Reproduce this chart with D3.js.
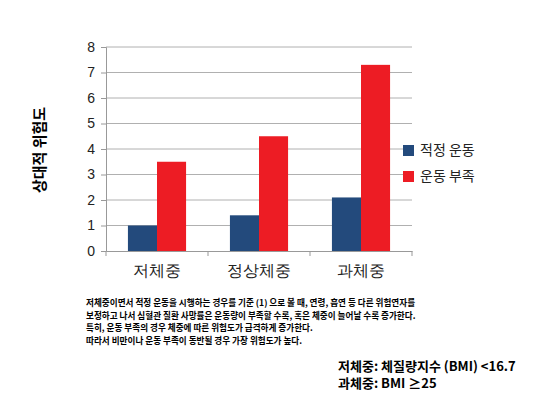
<!DOCTYPE html>
<html><head><meta charset="utf-8">
<script src="https://cdn.jsdelivr.net/npm/d3@7"></script>
<style>body{margin:0;background:#fff;font-family:"Noto Sans CJK KR","Noto Sans",sans-serif;}</style>
</head><body><div id="chart"></div>
<script>
const categories = ["저체중", "정상체중", "과체중"];
const seriesNames = ["적정 운동", "운동 부족"];
const proper = [1, 1.4, 2.1];
const lacking = [3.5, 4.5, 7.3];
const yTicks = [0, 1, 2, 3, 4, 5, 6, 7, 8];
const notes = [
  "저체중이면서 적정  운동을 시행하는 경우를 기준 (1) 으로 볼 때, 연령, 흡연 등 다른 위험연자를",
  "보정하고 나서 심혈관 질환 사망률은 운동량이 부족할 수록, 혹은 체중이 늘어날 수록 증가한다.",
  "특히, 운동 부족의 경우 체중에 따른 위험도가 급격하게 증가한다.",
  "따라서 비만이나 운동 부족이 동반될 경우 가장 위험도가 높다."
];
const bmiNotes = ["저체중: 체질량지수 (BMI) <16.7", "과체중: BMI ≥25"];
const colors = ["#234a7c", "#ed1c24"];

const svg = d3.select("#chart").append("svg").attr("width", 550).attr("height", 403);
const margin = {left: 106, top: 47, right: 412, bottom: 251};

const x = d3.scaleBand().domain(categories).range([margin.left, margin.right]).paddingInner(0.43).paddingOuter(0.215);
const xs = d3.scaleBand().domain(seriesNames).range([0, x.bandwidth()]);
const y = d3.scaleLinear().domain([0, 8]).range([margin.bottom, margin.top]);

svg.append("g").selectAll("line").data(yTicks.slice(1)).join("line")
  .attr("x1", margin.left).attr("x2", margin.right)
  .attr("y1", d => y(d)).attr("y2", d => y(d))
  .attr("stroke", "#b0b0b0");

const yAxis = svg.append("g").attr("transform", `translate(${margin.left},0)`)
  .call(d3.axisLeft(y).tickValues(yTicks).tickSize(5).tickPadding(6));
yAxis.selectAll("text").attr("font-size", 14).attr("fill", "#222");
yAxis.selectAll("line,path").attr("stroke", "#999");

const xAxis = svg.append("g").attr("transform", `translate(0,${margin.bottom})`)
  .call(d3.axisBottom(x).tickSize(0).tickPadding(14));
xAxis.selectAll("text").attr("font-size", 16).attr("fill", "#222");
xAxis.select("path").attr("stroke", "#999");
const step = x.step();
svg.append("g").selectAll("line").data(d3.range(4)).join("line")
  .attr("x1", d => margin.left + d * step).attr("x2", d => margin.left + d * step)
  .attr("y1", margin.bottom).attr("y2", margin.bottom + 5).attr("stroke", "#999");

const data = [proper, lacking];
data.forEach((vals, i) => {
  svg.append("g").selectAll("rect").data(vals).join("rect")
    .attr("x", (d, j) => x(categories[j]) + xs(seriesNames[i]))
    .attr("width", xs.bandwidth())
    .attr("y", d => y(d)).attr("height", d => y(0) - y(d))
    .attr("fill", colors[i]);
});

svg.append("text").attr("transform", "translate(45,150) rotate(-90)")
  .attr("text-anchor", "middle").attr("font-size", 15).attr("font-weight", "bold")
  .text("상대적 위험도");

const legend = svg.append("g").selectAll("g").data(seriesNames).join("g")
  .attr("transform", (d, i) => `translate(403,${145 + i * 26})`);
legend.append("rect").attr("width", 11).attr("height", 11).attr("fill", (d, i) => colors[i]);
legend.append("text").attr("x", 17).attr("y", 10).attr("font-size", 14).attr("fill", "#222").text(d => d);

svg.append("g").selectAll("text").data(notes).join("text")
  .attr("x", 86).attr("y", (d, i) => 306 + i * 12.5)
  .attr("font-size", 8.6).attr("font-weight", "bold").text(d => d);

svg.append("g").selectAll("text").data(bmiNotes).join("text")
  .attr("x", 338).attr("y", (d, i) => 371 + i * 17)
  .attr("font-size", 13).attr("font-weight", "bold").text(d => d);
</script></body></html>
